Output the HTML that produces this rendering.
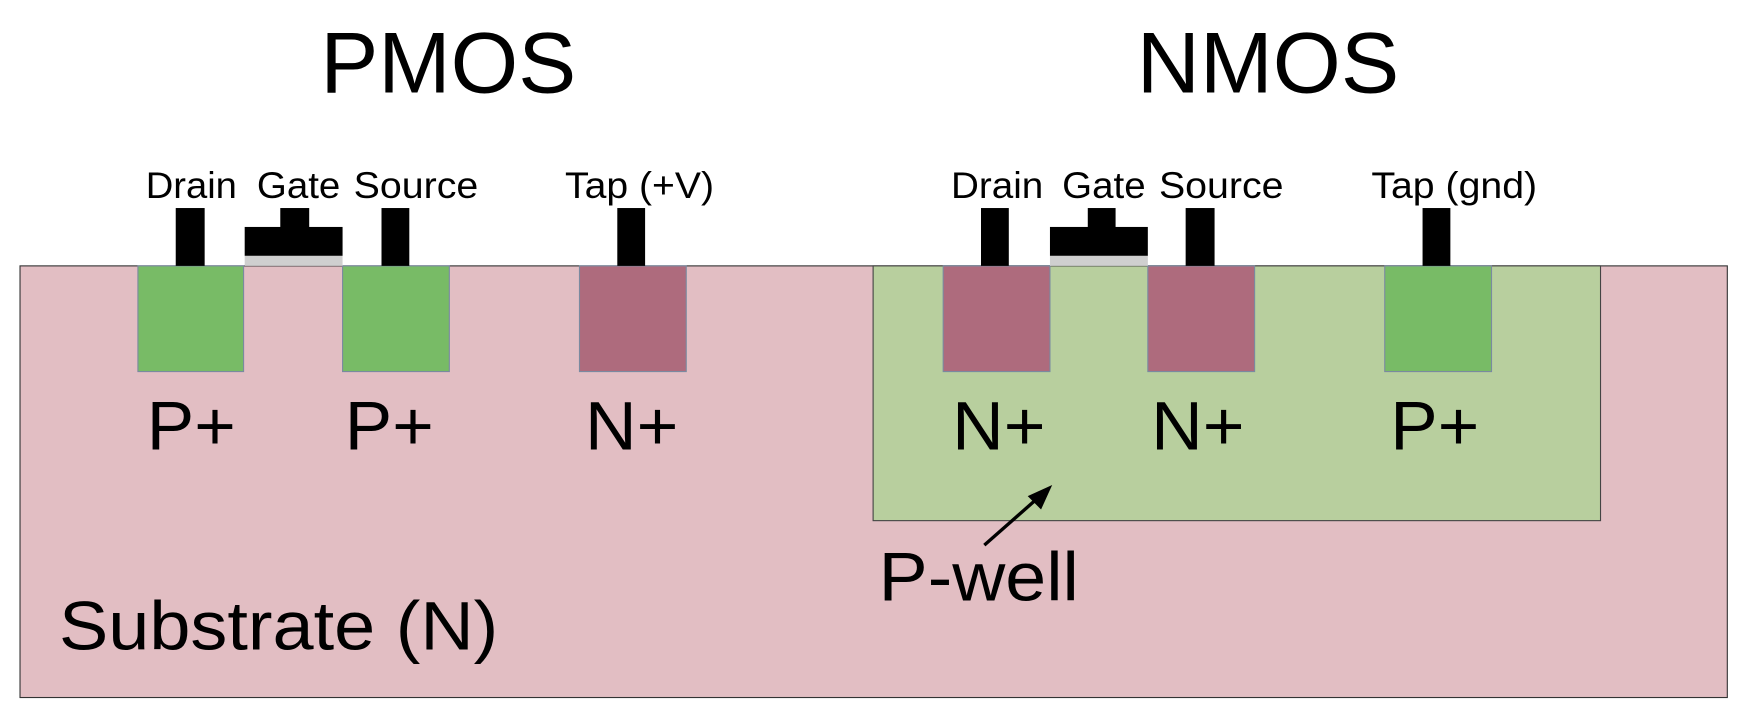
<!DOCTYPE html>
<html><head><meta charset="utf-8"><style>html,body{margin:0;padding:0;background:#fff;}svg{display:block}</style></head>
<body>
<svg width="1744" height="722" viewBox="0 0 1568 649" preserveAspectRatio="none" xmlns="http://www.w3.org/2000/svg" font-family="Liberation Sans, sans-serif">
<rect x="0" y="0" width="1568" height="649" fill="#fff"/>
<text x="288" y="83" font-size="78" textLength="230" lengthAdjust="spacingAndGlyphs">PMOS</text>
<text x="1022" y="83" font-size="78" textLength="236" lengthAdjust="spacingAndGlyphs">NMOS</text>
<rect x="18" y="239" width="1535" height="388" fill="#e2bec3" stroke="#333" stroke-width="1"/>
<rect x="785" y="239" width="654" height="229" fill="#b8cf9e" stroke="#444" stroke-width="1"/>
<g stroke="#7a8aa0" stroke-width="1">
<rect x="124" y="239" width="95" height="95" fill="#78bb66"/>
<rect x="308" y="239" width="96" height="95" fill="#78bb66"/>
<rect x="521" y="239" width="96" height="95" fill="#ae6b7d"/>
<rect x="848" y="239" width="96" height="95" fill="#ae6b7d"/>
<rect x="1032" y="239" width="96" height="95" fill="#ae6b7d"/>
<rect x="1245" y="239" width="96" height="95" fill="#78bb66"/>
</g>
<g fill="#000">
<rect x="158" y="187" width="26" height="52"/>
<rect x="343" y="187" width="25" height="52"/>
<rect x="555" y="187" width="25" height="52"/>
<rect x="252" y="187" width="26" height="18"/>
<rect x="220" y="204" width="88" height="26"/>
<rect x="882" y="187" width="25" height="52"/>
<rect x="1066" y="187" width="26" height="52"/>
<rect x="1279" y="187" width="25" height="52"/>
<rect x="978" y="187" width="25" height="18"/>
<rect x="944" y="204" width="88" height="26"/>
</g>
<rect x="220" y="230" width="88" height="9" fill="#cfcfcf"/>
<rect x="944" y="230" width="88" height="9" fill="#cfcfcf"/>
<g font-size="33" lengthAdjust="spacingAndGlyphs">
<text x="131" y="178" textLength="82" lengthAdjust="spacingAndGlyphs">Drain</text>
<text x="231" y="178" textLength="75" lengthAdjust="spacingAndGlyphs">Gate</text>
<text x="318" y="178" textLength="112" lengthAdjust="spacingAndGlyphs">Source</text>
<text x="508" y="178" textLength="134" lengthAdjust="spacingAndGlyphs">Tap (+V)</text>
<text x="855" y="178" textLength="83" lengthAdjust="spacingAndGlyphs">Drain</text>
<text x="955" y="178" textLength="75" lengthAdjust="spacingAndGlyphs">Gate</text>
<text x="1042" y="178" textLength="112" lengthAdjust="spacingAndGlyphs">Source</text>
<text x="1233" y="178" textLength="149" lengthAdjust="spacingAndGlyphs">Tap (gnd)</text>
</g>
<g font-size="62">
<text x="132" y="404" textLength="80" lengthAdjust="spacingAndGlyphs">P+</text>
<text x="310" y="404" textLength="80" lengthAdjust="spacingAndGlyphs">P+</text>
<text x="526" y="404" textLength="84" lengthAdjust="spacingAndGlyphs">N+</text>
<text x="856" y="404" textLength="84" lengthAdjust="spacingAndGlyphs">N+</text>
<text x="1035" y="404" textLength="84" lengthAdjust="spacingAndGlyphs">N+</text>
<text x="1250" y="404" textLength="80" lengthAdjust="spacingAndGlyphs">P+</text>
</g>
<text x="53" y="584" font-size="62" textLength="395" lengthAdjust="spacingAndGlyphs">Substrate (N)</text>
<text x="790" y="540" font-size="62" textLength="180" lengthAdjust="spacingAndGlyphs">P-well</text>
<line x1="885" y1="490" x2="935" y2="446" stroke="#000" stroke-width="3"/>
<polygon points="946,436 924,446 936,458" fill="#000"/>
</svg>
</body></html>
